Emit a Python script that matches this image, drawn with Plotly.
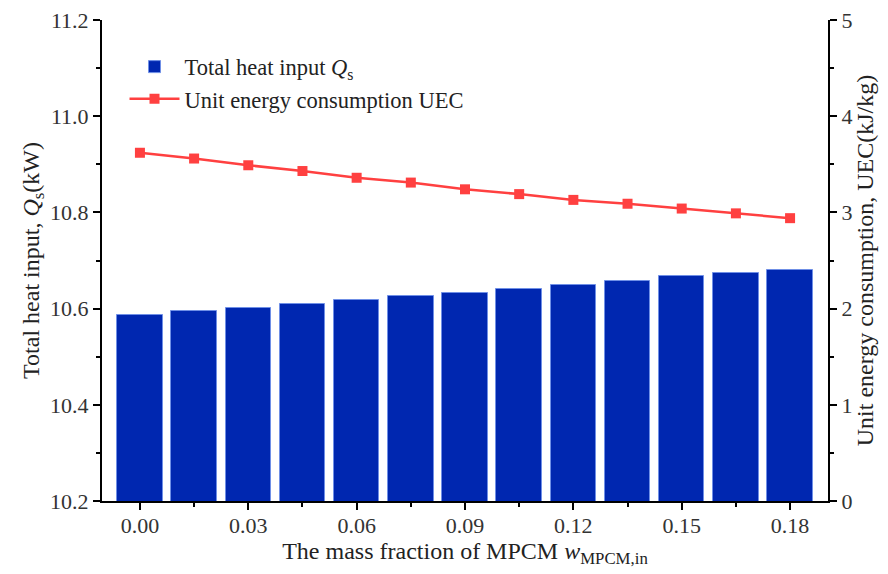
import plotly.graph_objects as go

w_mpcm = [0.0, 0.015, 0.03, 0.045, 0.06, 0.075, 0.09, 0.105, 0.12, 0.135, 0.15, 0.165, 0.18]
q_total = [10.587, 10.594, 10.601, 10.610, 10.618, 10.626, 10.633, 10.641, 10.650, 10.658, 10.668, 10.674, 10.681]
uec = [3.62, 3.56, 3.49, 3.43, 3.36, 3.31, 3.24, 3.19, 3.13, 3.09, 3.04, 2.99, 2.94]
x_ticks = [0.0, 0.03, 0.06, 0.09, 0.12, 0.15, 0.18]
x_tick_labels = ["0.00", "0.03", "0.06", "0.09", "0.12", "0.15", "0.18"]

FONT = "Liberation Serif"

fig = go.Figure()
fig.add_trace(go.Bar(
    x=w_mpcm, y=q_total, width=0.0126,
    marker=dict(color="#0027B0", line=dict(color="#6F8FE6", width=1)),
    name="Total heat input <i>Q</i><sub>s</sub>",
))
fig.add_trace(go.Scatter(
    x=w_mpcm, y=uec, yaxis="y2", mode="lines+markers",
    line=dict(color="#FF4040", width=2.5),
    marker=dict(symbol="square", size=10, color="#FF4040"),
    name="Unit energy consumption UEC",
))

axis_common = dict(showline=True, linecolor="black", linewidth=2, showgrid=False,
                   zeroline=False, ticks="outside", ticklen=7, tickwidth=2, tickcolor="black",
                   automargin=False, ticklabeloverflow="allow",
                   tickfont=dict(family=FONT, size=22, color="#333"))

fig.update_layout(
    width=880, height=566,
    margin=dict(l=94, r=60, t=12, b=73),
    plot_bgcolor="white", paper_bgcolor="white",
    font=dict(family=FONT, color="#222"),
    bargap=0,
    xaxis=dict(range=[-0.0105, 0.1905], tickvals=x_ticks, ticktext=x_tick_labels,
               ticklabelstandoff=-3,
               minor=dict(dtick=0.015, tick0=0, ticks="outside", ticklen=4, tickwidth=2, tickcolor="black"),
               title=dict(text="The mass fraction of MPCM <i>w</i><sub>MPCM,in</sub>",
                          font=dict(family=FONT, size=24, color="#222"), standoff=0),
               **axis_common),
    xaxis2=dict(range=[-0.0105, 0.1905], overlaying="x", side="top", matches="x",
                showline=True, linecolor="black", linewidth=2, showgrid=False, zeroline=False,
                ticks="inside", ticklen=7, tickwidth=2, tickcolor="black", showticklabels=False,
                tickvals=x_ticks, automargin=False,
                minor=dict(dtick=0.015, tick0=0, ticks="inside", ticklen=4, tickwidth=2, tickcolor="black")),
    yaxis=dict(range=[10.2, 11.2], dtick=0.2, tickformat=".1f",
               minor=dict(dtick=0.1, ticks="outside", ticklen=4, tickwidth=2, tickcolor="black"),
               title=dict(text="Total heat input, <i>Q</i><sub>s</sub>(kW)",
                          font=dict(family=FONT, size=24, color="#222"), standoff=4),
               **axis_common),
    yaxis2=dict(range=[0, 5], dtick=1, overlaying="y", side="right",
                minor=dict(dtick=0.5, ticks="outside", ticklen=4, tickwidth=2, tickcolor="black"),
                title=dict(text="Unit energy consumption, UEC(kJ/kg)",
                           font=dict(family=FONT, size=24, color="#222"), standoff=2),
                **axis_common),
    legend=dict(x=0.031, y=0.947, xanchor="left", yanchor="top",
                bgcolor="rgba(0,0,0,0)", font=dict(family=FONT, size=22.5, color="#222"),
                itemwidth=50, tracegroupgap=2),
    showlegend=True,
)

fig.write_html("out.html")
